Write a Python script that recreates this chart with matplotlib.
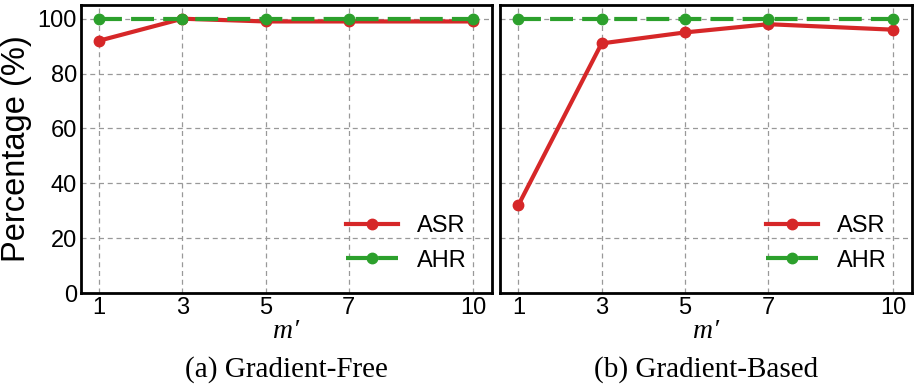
import numpy as np
import matplotlib
matplotlib.use("Agg")
from matplotlib import pyplot as plt

# values
m_values = [1, 3, 5, 7, 10]
asr_free = [92, 100, 99, 99, 99]
ahr_free = [100, 100, 100, 100, 100]
asr_based = [32, 91, 95, 98, 96]
ahr_based = [100, 100, 100, 100, 100]
y_ticks = [0, 20, 40, 60, 80, 100]
captions = ["(a) Gradient-Free", "(b) Gradient-Based"]

plt.rcParams["font.family"] = ["Liberation Sans", "DejaVu Sans"]

fig = plt.figure(figsize=(9.17, 3.91), dpi=100)
ax1 = fig.add_axes([81 / 917, 98 / 391, 411 / 917, 288 / 391])
ax2 = fig.add_axes([500 / 917, 98 / 391, 412 / 917, 288 / 391])

panels = [(ax1, asr_free, ahr_free), (ax2, asr_based, ahr_based)]
for i, (ax, asr, ahr) in enumerate(panels):
    ax.grid(True, linestyle=(0, (4, 3)), color="#999999", linewidth=0.9)
    ax.set_axisbelow(True)
    ax.plot(m_values, asr, color="#d62728", lw=3, marker="o", ms=7.5, label="ASR")
    ax.plot(m_values, ahr, color="#2ca02c", lw=3, ls=(0, (5.5, 2.2)), marker="o", ms=7.5,
            label="AHR")
    ax.set_xlim(0.56, 10.45)
    ax.set_ylim(0, 105)
    ax.set_xticks(m_values)
    ax.set_yticks(y_ticks)
    ax.tick_params(labelsize=17, length=0, pad=3)
    for s in ax.spines.values():
        s.set_linewidth(2)
        s.set_color("black")
    ax.set_xlabel("m\u2032", fontsize=20, labelpad=0, style="italic",
                  family=["Liberation Serif", "DejaVu Serif"])
    ax.legend(loc="lower right", frameon=False, fontsize=17, handlelength=2.2,
              labelspacing=0.55, handletextpad=0.8, bbox_to_anchor=(0.99, 0.0))
    fig.text((ax.get_position().x0 + ax.get_position().x1) / 2, 1 - 370 / 391,
             captions[i], ha="center", va="center", fontsize=21,
             family="Liberation Serif")

ax2.set_yticklabels([])
ax1.set_ylabel("Percentage (%)", fontsize=23.5, labelpad=4)

fig.savefig("out.png", dpi=100)
